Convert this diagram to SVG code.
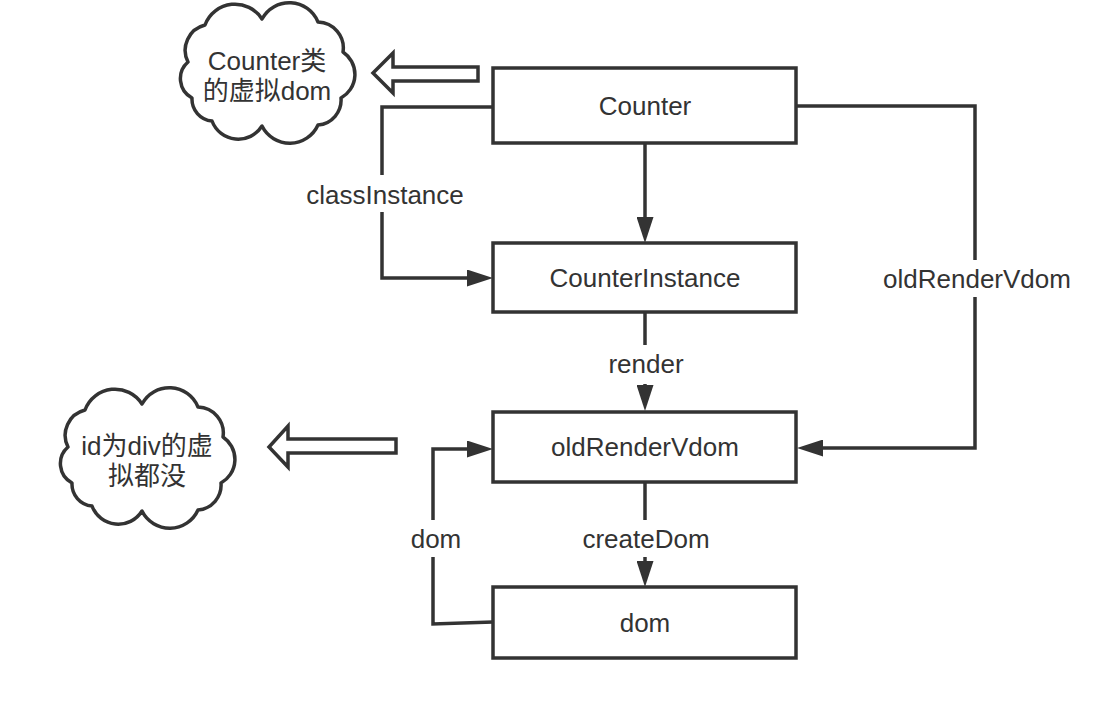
<svg xmlns="http://www.w3.org/2000/svg" width="1096" height="714" viewBox="0 0 1096 714">
<style>
.box{fill:#fff;stroke:#333;stroke-width:3.5}
.txt{font-family:"Liberation Sans","Noto Sans CJK SC",sans-serif;font-size:26px;fill:#333;text-anchor:middle}
.conn{fill:none;stroke:#333;stroke-width:3.5}
.cloud{fill:#fff;stroke:#333;stroke-width:3.5;stroke-linejoin:round}
.hollow{fill:#fff;stroke:#333;stroke-width:3.5;stroke-linejoin:miter}
</style>
<defs>
<marker id="arr" viewBox="0 0 26 17" refX="16" refY="8.5" markerWidth="26" markerHeight="17" markerUnits="userSpaceOnUse" orient="auto">
<path d="M0,0 L26,8.5 L0,17 Z" fill="#333"/>
</marker>
<path id="cloudShape" d="M188,62 A26,26 0 0 1 205,25 A32,32 0 0 1 262,19 A31,31 0 0 1 318,22 A26,26 0 0 1 343,52 A27,27 0 0 1 341,98 A25,25 0 0 1 318,125 A31,31 0 0 1 262,126 A28,28 0 0 1 212,121 A22,22 0 0 1 192,98 A22,22 0 0 1 188,62 Z"/>
</defs>
<rect width="1096" height="714" fill="#fff"/>
<g id="connectors">
<path class="conn" d="M645,143 V233" marker-end="url(#arr)"/>
<path class="conn" d="M493,107 H382 V175"/>
<path class="conn" d="M382,212 V278 H483" marker-end="url(#arr)"/>
<path class="conn" d="M645,312 V345"/>
<path class="conn" d="M645,384 V401" marker-end="url(#arr)"/>
<path class="conn" d="M797,106 H975 V260"/>
<path class="conn" d="M975,297 V448 H807" marker-end="url(#arr)"/>
<path class="conn" d="M645,482 V520"/>
<path class="conn" d="M645,557 V577" marker-end="url(#arr)"/>
<path class="conn" d="M493,622 L433,624 V557"/>
<path class="conn" d="M433,520 V449 H483" marker-end="url(#arr)"/>
<text class="txt" x="385" y="204">classInstance</text>
<text class="txt" x="646" y="373">render</text>
<text class="txt" x="977" y="288">oldRenderVdom</text>
<text class="txt" x="646" y="548">createDom</text>
<text class="txt" x="436" y="548">dom</text>
</g>
<g id="counter">
<rect class="box" x="493" y="68" width="303" height="75"/>
<text class="txt" x="645" y="115">Counter</text>
</g>
<g id="counterInstance">
<rect class="box" x="493" y="243" width="303" height="69"/>
<text class="txt" x="645" y="287">CounterInstance</text>
</g>
<g id="oldRenderVdom">
<rect class="box" x="493" y="412" width="303" height="70"/>
<text class="txt" x="645" y="456">oldRenderVdom</text>
</g>
<g id="dom">
<rect class="box" x="493" y="587" width="303" height="71"/>
<text class="txt" x="645" y="632">dom</text>
</g>
<g id="cloud1">
<use href="#cloudShape" class="cloud"/>
<text class="txt" x="267" y="70">Counter类</text>
<text class="txt" x="267" y="100">的虚拟dom</text>
</g>
<g id="hollowArrow1">
<polygon class="hollow" points="478,67 393,67 393,53 373,73 393,93 393,81 478,81"/>
</g>
<g id="cloud2">
<use href="#cloudShape" class="cloud" transform="translate(-120,385)"/>
<text class="txt" x="147" y="455">id为div的虚</text>
<text class="txt" x="147" y="485">拟都没</text>
</g>
<g id="hollowArrow2">
<polygon class="hollow" points="396,439 288,439 288,426 269,447 288,467 288,453 396,453"/>
</g>
</svg>
